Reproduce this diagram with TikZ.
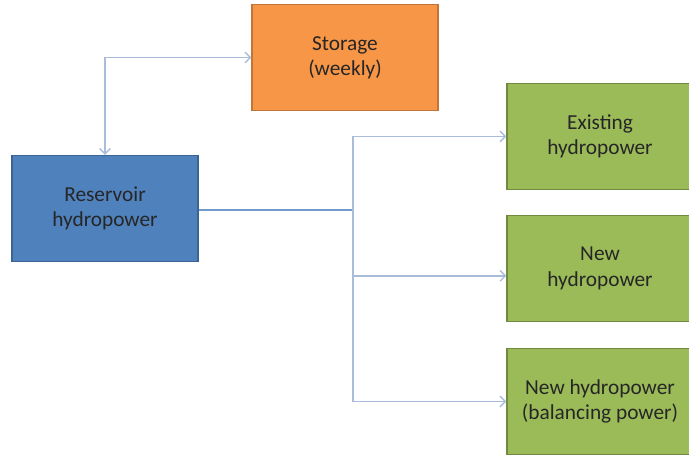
\documentclass[tikz,border=0pt]{standalone}
\usepackage{fontspec}
\setmainfont{Carlito}
\usetikzlibrary{arrows.meta}
\definecolor{resblue}{HTML}{4F81BD}
\definecolor{resedge}{HTML}{3A6496}
\definecolor{storeorange}{HTML}{F79646}
\definecolor{storeedge}{HTML}{C27538}
\definecolor{plantgreen}{HTML}{9BBB59}
\definecolor{plantedge}{HTML}{71893F}
\definecolor{linkblue}{HTML}{A9BCDB}
\definecolor{txt}{HTML}{262626}

\begin{document}
\begin{tikzpicture}[x=0.75pt,y=-0.75pt,
  box/.style={rectangle,draw,line width=1pt,minimum width=139.5pt,minimum height=79.5pt,
    align=center,text=txt,font=\fontsize{16}{19}\selectfont},
  link/.style={draw=linkblue,line width=1pt,-{Straight Barb[length=4pt,width=8pt]}}]
  \useasboundingbox (0,0) rectangle (689,454);
  \clip (0,0) rectangle (689,454);
  \node[box,fill=storeorange,draw=storeedge] (sto) at (345,57.5) {Storage\\(weekly)};
  \node[box,fill=resblue,draw=resedge] (res) at (105,208.5) {Reservoir\\hydropower};
  \node[box,fill=plantgreen,draw=plantedge] (ex) at (600,136.5) {Existing\\hydropower};
  \node[box,fill=plantgreen,draw=plantedge] (new) at (600,268.5) {New\\hydropower};
  \node[box,fill=plantgreen,draw=plantedge] (bal) at (600,401.5) {New hydropower\\(balancing power)};
  \coordinate (split) at (353,210);
  % storage <-> reservoir
  \draw[link,{Straight Barb[length=4pt,width=8pt]}-{Straight Barb[length=4pt,width=8pt]}] (res.north) |- (sto.west);
  % reservoir to the plants
  \draw[draw=resblue!80,line width=1pt] (res.east |- split) -- (split);
  \draw[link] (split) |- (ex.west);
  \draw[link] (split) |- ([yshift=-5.5pt]new.west);
  \draw[link] (split) |- (bal.west);
 \end{tikzpicture}
\end{document}
